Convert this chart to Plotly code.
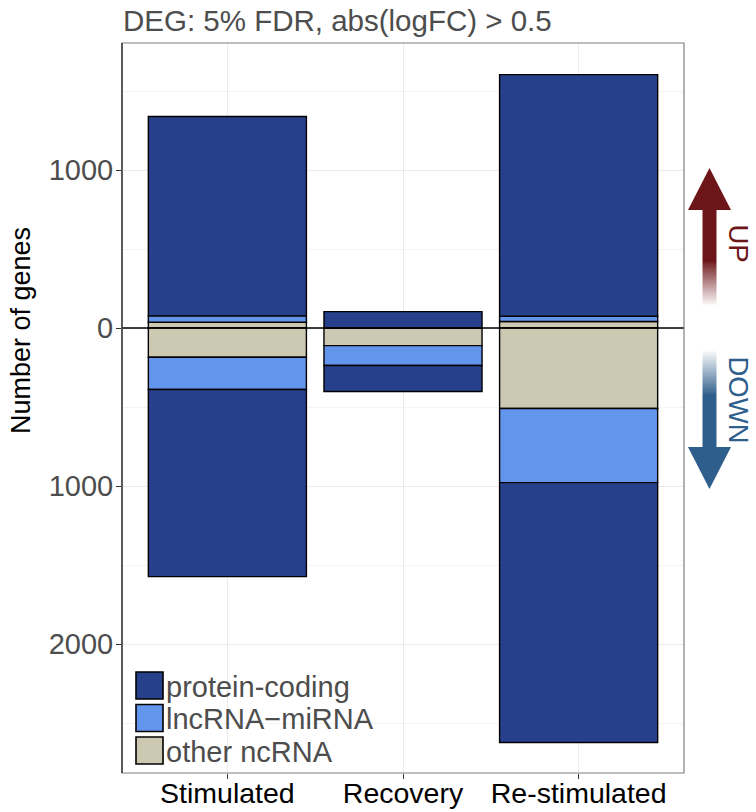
import plotly.graph_objects as go

# ---- data ----------------------------------------------------------------
conditions = ["Stimulated", "Recovery", "Re-stimulated"]
gene_types = ["other ncRNA", "lncRNA\u2212miRNA", "protein-coding"]

up_other = [37, 0, 41]
up_lnc = [40, 0, 34]
up_protein = [1262, 104, 1529]

down_other = [185, 111, 509]
down_lnc = [204, 126, 469]
down_protein = [1184, 165, 1645]

type_colors = ["#CDC8B1", "#6495ED", "#27408B"]

y_tick_vals = [-2000, -1000, 0, 1000]
y_tick_text = ["2000", "1000", "0", "1000"]
y_minor_vals = [-2500, -1500, -500, 500, 1500]

# ---- page geometry (pixels) ----------------------------------------------
W, H = 756, 812
ML, MR, MT, MB = 122, 72, 43, 39
PW, PH = W - ML - MR, H - MT - MB


def px(x):
    return (x - ML) / PW


def py(y):
    return (H - MB - y) / PH


FONT = "Liberation Sans, Arial, Helvetica, sans-serif"
GREY_TEXT = "#4d4d4d"
FS = 29

fig = go.Figure()

ups = [up_other, up_lnc, up_protein]
downs = [down_other, down_lnc, down_protein]
for name, color, u, d in zip(gene_types, type_colors, ups, downs):
    fig.add_trace(go.Bar(x=conditions, y=u, name=name, width=0.9,
                         marker=dict(color=color, line=dict(color="black", width=1.4)),
                         showlegend=False))
    fig.add_trace(go.Bar(x=conditions, y=[-v for v in d], name=name, width=0.9,
                         marker=dict(color=color, line=dict(color="black", width=1.4)),
                         showlegend=False))

shapes = []
annotations = []

# zero line across the panel
shapes.append(dict(type="line", xref="paper", yref="y", x0=0, x1=1, y0=0, y1=0,
                   line=dict(color="black", width=1.5), layer="above"))
# panel border
shapes.append(dict(type="rect", xref="paper", yref="paper", x0=0, x1=1, y0=0, y1=1,
                   line=dict(color="#7f7f7f", width=1.2), layer="above"))
shapes.append(dict(type="line", xref="paper", yref="paper", x0=0, x1=0, y0=0, y1=1,
                   line=dict(color="#222222", width=1.2), layer="above"))

# legend drawn as boxes with labels, protein-coding first
legend_order = [2, 1, 0]
sw_x0, sw_size, sw_top, sw_pitch = 136, 27, 672, 32.5
for i, k in enumerate(legend_order):
    top = sw_top + i * sw_pitch
    shapes.append(dict(type="rect", xref="paper", yref="paper",
                       x0=px(sw_x0), x1=px(sw_x0 + sw_size),
                       y0=py(top + sw_size), y1=py(top),
                       fillcolor=type_colors[k], line=dict(color="black", width=1.6),
                       layer="above"))
    annotations.append(dict(text=gene_types[k], xref="paper", yref="paper",
                            x=px(sw_x0 + sw_size + 1), y=py(top + sw_size / 2 + 1),
                            xanchor="left", yanchor="middle", showarrow=False,
                            font=dict(family=FONT, size=FS, color=GREY_TEXT)))


# direction arrows on the right, with faded tails
def arrow(color, shaft_solid, fade_from, fade_to, head_base, tip):
    out = []
    cx, hw, sw = 709.5, 21.5, 7
    out.append(dict(type="rect", xref="paper", yref="paper",
                    x0=px(cx - sw), x1=px(cx + sw),
                    y0=py(max(shaft_solid)), y1=py(min(shaft_solid)),
                    fillcolor=color, line=dict(width=0), layer="above"))
    steps = 22
    for s in range(steps):
        a = fade_from + (fade_to - fade_from) * s / steps
        b = fade_from + (fade_to - fade_from) * (s + 1) / steps
        op = 1 - (s + 0.5) / steps
        out.append(dict(type="rect", xref="paper", yref="paper",
                        x0=px(cx - sw), x1=px(cx + sw),
                        y0=py(max(a, b)), y1=py(min(a, b)),
                        fillcolor=color, opacity=op * 0.95, line=dict(width=0),
                        layer="above"))
    path = "M {:.5f},{:.5f} L {:.5f},{:.5f} L {:.5f},{:.5f} Z".format(
        px(cx - hw), py(head_base), px(cx + hw), py(head_base), px(cx), py(tip))
    out.append(dict(type="path", xref="paper", yref="paper", path=path,
                    fillcolor=color, line=dict(width=0), layer="above"))
    return out


UP_COL, DOWN_COL = "#6d1619", "#2e5e8b"
shapes += arrow(UP_COL, (209, 262), 262, 306, 210, 168)
shapes += arrow(DOWN_COL, (394, 448), 394, 350, 447, 489)

annotations.append(dict(text="UP", xref="paper", yref="paper", x=px(738.5), y=py(243),
                        textangle=90, showarrow=False, xanchor="center", yanchor="middle",
                        font=dict(family=FONT, size=27.5, color=UP_COL)))
annotations.append(dict(text="DOWN", xref="paper", yref="paper", x=px(738.5), y=py(400),
                        textangle=90, showarrow=False, xanchor="center", yanchor="middle",
                        font=dict(family=FONT, size=27.5, color=DOWN_COL)))

# y axis title
annotations.append(dict(text="Number of genes", xref="paper", yref="paper",
                        x=px(21), y=py(331), textangle=-90, showarrow=False,
                        xanchor="center", yanchor="middle",
                        font=dict(family=FONT, size=27, color="black")))

fig.update_layout(
    width=W, height=H,
    margin=dict(l=ML, r=MR, t=MT, b=MB, pad=0, autoexpand=False),
    paper_bgcolor="white", plot_bgcolor="white",
    barmode="relative", bargap=0.1,
    title=dict(text="DEG: 5% FDR, abs(logFC) > 0.5", x=(ML + 1) / W, xanchor="left",
               y=(H - 21) / H, yanchor="middle",
               font=dict(family=FONT, size=29.5, color=GREY_TEXT)),
    shapes=shapes, annotations=annotations,
    showlegend=False,
)

fig.update_xaxes(
    type="category", range=[-0.6, 2.6], automargin=False,
    showgrid=True, gridcolor="#ebebeb", gridwidth=1.2,
    ticks="outside", ticklen=5, tickcolor="#333333", tickwidth=1.2,
    ticklabelstandoff=-10,
    tickfont=dict(family=FONT, size=28.5, color="black"),
    showline=False, zeroline=False,
)
fig.update_yaxes(
    range=[-2816, 1804], automargin=False,
    tickvals=y_tick_vals, ticktext=y_tick_text,
    showgrid=True, gridcolor="#ebebeb", gridwidth=1.2,
    minor=dict(tickvals=y_minor_vals, showgrid=True, gridcolor="#f4f4f4", gridwidth=0.8),
    ticks="outside", ticklen=5, tickcolor="#333333", tickwidth=1.2,
    ticklabelstandoff=-3,
    tickfont=dict(family=FONT, size=FS, color=GREY_TEXT),
    showline=False, zeroline=False,
)

fig.write_html("out.html")
